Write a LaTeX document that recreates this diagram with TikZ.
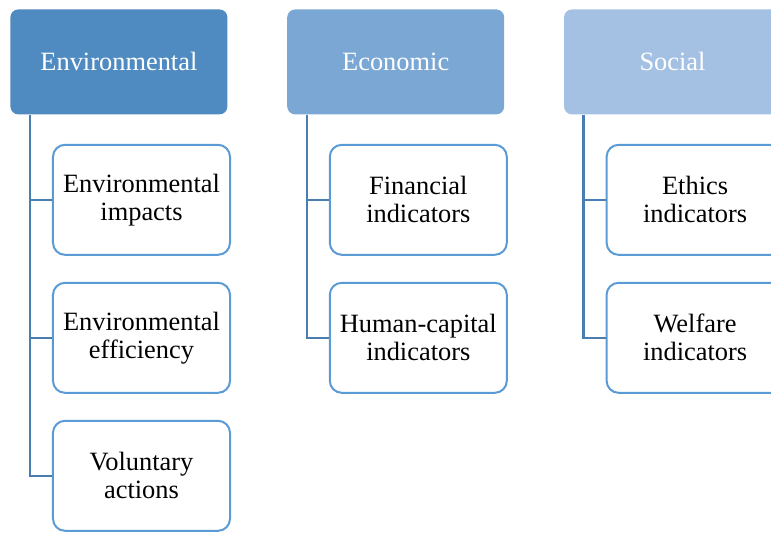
\documentclass[tikz,border=0pt]{standalone}
\usepackage{fontspec}
\setmainfont{Liberation Serif}
\usetikzlibrary{positioning}
\definecolor{HeadDark}{HTML}{4F8BC0}
\definecolor{HeadMid}{HTML}{7BA7D4}
\definecolor{HeadLight}{HTML}{A4C1E4}
\definecolor{ItemLine}{HTML}{5B9BD5}
\definecolor{TreeLine}{HTML}{4A7EB0}

\begin{document}
\begin{tikzpicture}[node distance=13pt,font=\fontsize{13.2}{14}\selectfont]
      \tikzstyle{head}=[rounded corners=4pt,align=center,minimum width=108.5pt,minimum height=52.5pt,text=white,inner sep=1pt]
      \tikzstyle{item}=[draw=ItemLine,line width=1pt,rounded corners=6pt,align=center,minimum width=88.5pt,minimum height=55pt,fill=white,inner sep=1pt]
      \tikzstyle{tree}=[draw=TreeLine,line width=1.2pt]
      \clip (-5pt,4.5pt) rectangle (380.5pt,-261.5pt);
      \node[head,fill=HeadDark,anchor=north west] (env) at (0,0) {Environmental};
      \node[head,fill=HeadMid,right=29.5pt of env] (eco) {Economic};
      \node[head,fill=HeadLight,right=29.5pt of eco] (soc) {Social};
      % environmental
      \node[item,below right=14.5pt and 21pt of env.south west] (envimp) {Environmental\\impacts};
      \node[item,below=of envimp] (enveff) {Environmental\\efficiency};
      \node[item,below=of enveff] (vol) {Voluntary\\actions};
      % economic
      \node[item,below right=14.5pt and 21pt of eco.south west] (fin) {Financial\\indicators};
      \node[item,below=of fin] (hum) {Human-capital\\indicators};
      % social
      \node[item,below right=14.5pt and 21pt of soc.south west] (eth) {Ethics\\indicators};
      \node[item,below=of eth] (wel) {Welfare\\indicators};
      \draw[tree] ([xshift=10pt]env.south west) |- (envimp.west);
      \draw[tree] ([xshift=10pt]env.south west) |- (enveff.west);
      \draw[tree] ([xshift=10pt]env.south west) |- (vol.west);
      \draw[tree] ([xshift=10pt]eco.south west) |- (fin.west);
      \draw[tree] ([xshift=10pt]eco.south west) |- (hum.west);
      \draw[tree] ([xshift=10pt]soc.south west) |- (eth.west);
      \draw[tree] ([xshift=10pt]soc.south west) |- (wel.west);
    \end{tikzpicture}
\end{document}
